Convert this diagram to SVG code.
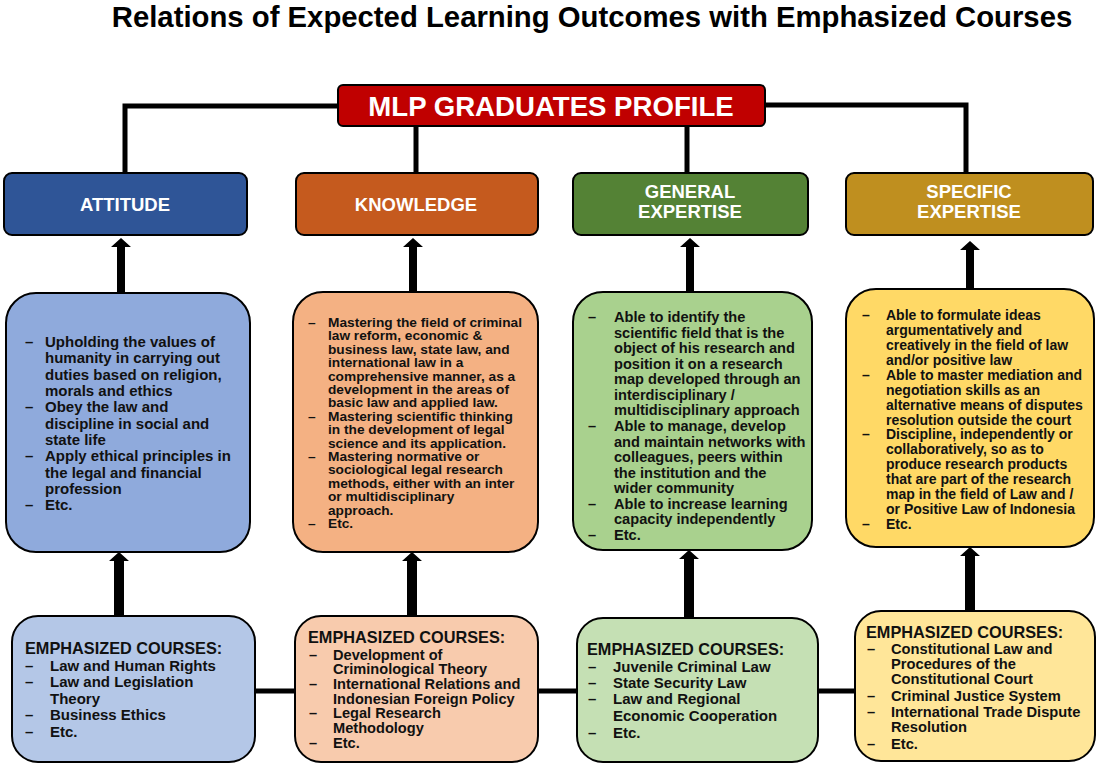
<svg xmlns="http://www.w3.org/2000/svg" width="1097" height="764" viewBox="0 0 1097 764">
<style>
text{font-family:"Liberation Sans",Arial,sans-serif;font-weight:bold}
.title{font-size:29.3px;fill:#000}
.hd{font-size:18.5px;fill:#fff;text-anchor:middle}
.box{stroke:#000;stroke-width:2}
.t{fill:#111}
.conn{stroke:#000;stroke-width:5;fill:none}
.arr{fill:#000}
</style>
<rect width="1097" height="764" fill="#fff"/>
<text class="title" x="592" y="27" text-anchor="middle">Relations of Expected Learning Outcomes with Emphasized Courses</text>

<g id="connectors">
<polyline class="conn" points="125,173 125,106 339,106"/>
<polyline class="conn" points="764,105 966,105 966,173"/>
<line class="conn" x1="416" y1="126" x2="416" y2="173"/>
<line class="conn" x1="687" y1="126" x2="687" y2="173"/>
<line class="conn" x1="254" y1="691" x2="296" y2="691"/>
<line class="conn" x1="537" y1="691" x2="578" y2="691"/>
<line class="conn" x1="817" y1="691" x2="856" y2="691"/>
<polygon class="arr" points="121,238 131,247 125,247 125,294 117,294 117,247 111,247"/>
<polygon class="arr" points="413,238 423,247 417,247 417,293 409,293 409,247 403,247"/>
<polygon class="arr" points="690,238 700,247 694,247 694,293 686,293 686,247 680,247"/>
<polygon class="arr" points="970,241 980,250 974,250 974,290 966,290 966,250 960,250"/>
<polygon class="arr" points="119,552 129,561 124,561 124,617 114,617 114,561 109,561"/>
<polygon class="arr" points="412,552 422,561 417,561 417,617 407,617 407,561 402,561"/>
<polygon class="arr" points="689,550 699,559 694,559 694,619 684,619 684,559 679,559"/>
<polygon class="arr" points="970,547 980,556 975,556 975,612 965,612 965,556 960,556"/>
</g>

<g id="profile">
<rect class="box" x="338" y="85" width="427" height="41" rx="5" fill="#C00000"/>
<text x="551" y="116" text-anchor="middle" style="font-size:27.6px;fill:#fff">MLP GRADUATES PROFILE</text>
</g>

<g id="attitude">
<rect class="box" x="4" y="173" width="243" height="62" rx="8" fill="#2F5597"/>
<text class="hd" x="125" y="210.5">ATTITUDE</text>
</g>
<g id="knowledge">
<rect class="box" x="296" y="173" width="242" height="62" rx="8" fill="#C55A1E"/>
<text class="hd" x="416" y="210.5">KNOWLEDGE</text>
</g>
<g id="general">
<rect class="box" x="573" y="173" width="235" height="62" rx="8" fill="#548235"/>
<text class="hd" x="690" y="197.5">GENERAL</text>
<text class="hd" x="690" y="217.5">EXPERTISE</text>
</g>
<g id="specific">
<rect class="box" x="846" y="173" width="247" height="62" rx="8" fill="#BF8F1F"/>
<text class="hd" x="969" y="197.5">SPECIFIC</text>
<text class="hd" x="969" y="217.5">EXPERTISE</text>
</g>

<g id="attitude-outcomes">
<rect class="box" x="6" y="293" width="244" height="259" rx="30" fill="#8FAADC"/>
<g class="t" style="font-size:15px">
<text x="25" y="347">–</text><text x="45" y="347">Upholding the values of</text>
<text x="45" y="363.3">humanity in carrying out</text>
<text x="45" y="379.7">duties based on religion,</text>
<text x="45" y="396">morals and ethics</text>
<text x="25" y="412.3">–</text><text x="45" y="412.3">Obey the law and</text>
<text x="45" y="428.7">discipline in social and</text>
<text x="45" y="445">state life</text>
<text x="25" y="461.3">–</text><text x="45" y="461.3">Apply ethical principles in</text>
<text x="45" y="477.6">the legal and financial</text>
<text x="45" y="494">profession</text>
<text x="25" y="510.3">–</text><text x="45" y="510.3">Etc.</text>
</g>
</g>

<g id="knowledge-outcomes">
<rect class="box" x="293" y="292" width="245" height="260" rx="30" fill="#F4B183"/>
<g class="t" style="font-size:13.7px">
<text x="308" y="327">–</text><text x="328" y="327">Mastering the field of criminal</text>
<text x="328" y="340.4">law reform, economic &amp;</text>
<text x="328" y="353.8">business law, state law, and</text>
<text x="328" y="367.2">international law in a</text>
<text x="328" y="380.6">comprehensive manner, as a</text>
<text x="328" y="394">development in the areas of</text>
<text x="328" y="407.4">basic law and applied law.</text>
<text x="308" y="420.8">–</text><text x="328" y="420.8">Mastering scientific thinking</text>
<text x="328" y="434.2">in the development of legal</text>
<text x="328" y="447.6">science and its application.</text>
<text x="308" y="461">–</text><text x="328" y="461">Mastering normative or</text>
<text x="328" y="474.4">sociological legal research</text>
<text x="328" y="487.8">methods, either with an inter</text>
<text x="328" y="501.2">or multidisciplinary</text>
<text x="328" y="514.6">approach.</text>
<text x="308" y="528">–</text><text x="328" y="528">Etc.</text>
</g>
</g>

<g id="general-outcomes">
<rect class="box" x="573" y="292" width="239" height="258" rx="30" fill="#A9D18E"/>
<g class="t" style="font-size:14.6px">
<text x="588" y="322">–</text><text x="614" y="322">Able to identify the</text>
<text x="614" y="337.6">scientific field that is the</text>
<text x="614" y="353.1">object of his research and</text>
<text x="614" y="368.7">position it on a research</text>
<text x="614" y="384.3">map developed through an</text>
<text x="614" y="399.9">interdisciplinary /</text>
<text x="614" y="415.4">multidisciplinary approach</text>
<text x="588" y="431">–</text><text x="614" y="431">Able to manage, develop</text>
<text x="614" y="446.6">and maintain networks with</text>
<text x="614" y="462.1">colleagues, peers within</text>
<text x="614" y="477.7">the institution and the</text>
<text x="614" y="493.3">wider community</text>
<text x="588" y="508.8">–</text><text x="614" y="508.8">Able to increase learning</text>
<text x="614" y="524.4">capacity independently</text>
<text x="588" y="540">–</text><text x="614" y="540">Etc.</text>
</g>
</g>

<g id="specific-outcomes">
<rect class="box" x="846" y="289" width="248" height="258" rx="30" fill="#FFD966"/>
<g class="t" style="font-size:14px">
<text x="862" y="320">–</text><text x="886" y="320">Able to formulate ideas</text>
<text x="886" y="334.9">argumentatively and</text>
<text x="886" y="349.9">creatively in the field of law</text>
<text x="886" y="364.8">and/or positive law</text>
<text x="862" y="379.7">–</text><text x="886" y="379.7">Able to master mediation and</text>
<text x="886" y="394.7">negotiation skills as an</text>
<text x="886" y="409.6">alternative means of disputes</text>
<text x="886" y="424.5">resolution outside the court</text>
<text x="862" y="439.4">–</text><text x="886" y="439.4">Discipline, independently or</text>
<text x="886" y="454.4">collaboratively, so as to</text>
<text x="886" y="469.3">produce research products</text>
<text x="886" y="484.2">that are part of the research</text>
<text x="886" y="499.2">map in the field of Law and /</text>
<text x="886" y="514.1">or Positive Law of Indonesia</text>
<text x="862" y="529">–</text><text x="886" y="529">Etc.</text>
</g>
</g>

<g id="attitude-courses">
<rect class="box" x="12" y="616" width="243" height="146" rx="26" fill="#B4C7E7"/>
<text class="t" x="25" y="654" style="font-size:16.3px">EMPHASIZED COURSES:</text>
<g class="t" style="font-size:15px">
<text x="25" y="671">–</text><text x="50" y="671">Law and Human Rights</text>
<text x="25" y="687">–</text><text x="50" y="687">Law and Legislation</text>
<text x="50" y="703.5">Theory</text>
<text x="25" y="720">–</text><text x="50" y="720">Business Ethics</text>
<text x="25" y="737">–</text><text x="50" y="737">Etc.</text>
</g>
</g>

<g id="knowledge-courses">
<rect class="box" x="295" y="616" width="243" height="146" rx="26" fill="#F8CBAD"/>
<text class="t" x="308" y="643" style="font-size:16.3px">EMPHASIZED COURSES:</text>
<g class="t" style="font-size:14.6px">
<text x="309" y="660">–</text><text x="333" y="660">Development of</text>
<text x="333" y="674">Criminological Theory</text>
<text x="309" y="689">–</text><text x="333" y="689">International Relations and</text>
<text x="333" y="704">Indonesian Foreign Policy</text>
<text x="309" y="718">–</text><text x="333" y="718">Legal Research</text>
<text x="333" y="733">Methodology</text>
<text x="309" y="748">–</text><text x="333" y="748">Etc.</text>
</g>
</g>

<g id="general-courses">
<rect class="box" x="577" y="618" width="241" height="144" rx="26" fill="#C5E0B4"/>
<text class="t" x="587" y="655" style="font-size:16.3px">EMPHASIZED COURSES:</text>
<g class="t" style="font-size:15px">
<text x="588" y="672">–</text><text x="613" y="672">Juvenile Criminal Law</text>
<text x="588" y="688">–</text><text x="613" y="688">State Security Law</text>
<text x="588" y="704">–</text><text x="613" y="704">Law and Regional</text>
<text x="613" y="721">Economic Cooperation</text>
<text x="588" y="738">–</text><text x="613" y="738">Etc.</text>
</g>
</g>

<g id="specific-courses">
<rect class="box" x="855" y="611" width="240" height="150" rx="26" fill="#FFE699"/>
<text class="t" x="866" y="638" style="font-size:16.3px">EMPHASIZED COURSES:</text>
<g class="t" style="font-size:14.7px">
<text x="867" y="654">–</text><text x="891" y="654">Constitutional Law and</text>
<text x="891" y="669">Procedures of the</text>
<text x="891" y="684">Constitutional Court</text>
<text x="867" y="701">–</text><text x="891" y="701">Criminal Justice System</text>
<text x="867" y="717">–</text><text x="891" y="717">International Trade Dispute</text>
<text x="891" y="732">Resolution</text>
<text x="867" y="749">–</text><text x="891" y="749">Etc.</text>
</g>
</g>
</svg>
